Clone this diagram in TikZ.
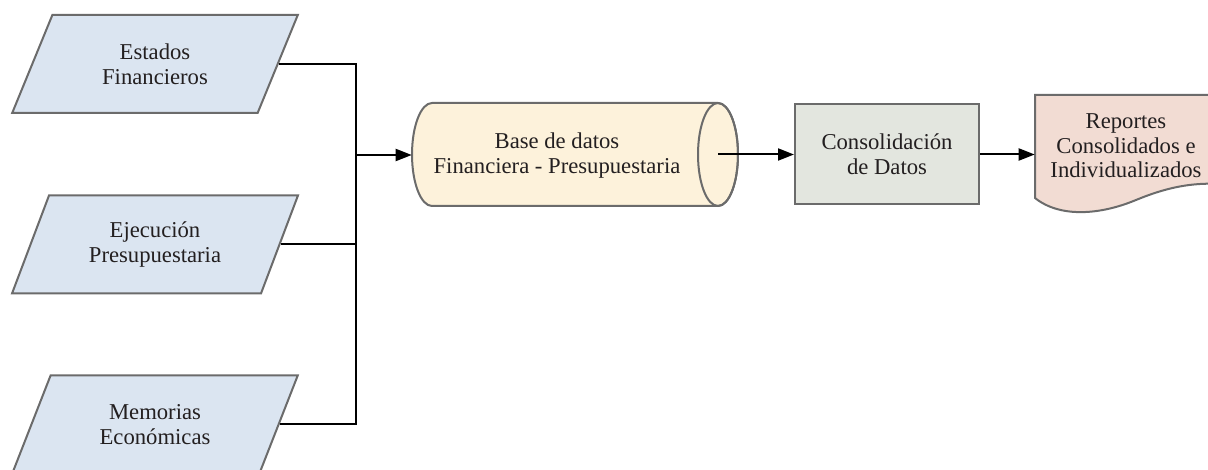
\documentclass[tikz,border=0pt]{standalone}
\usepackage{fontspec}
\setmainfont{Liberation Serif}
\usetikzlibrary{shapes.geometric,arrows.meta}
\definecolor{pfill}{HTML}{DBE5F1}
\definecolor{cfill}{HTML}{FDF2DB}
\definecolor{bfill}{HTML}{E3E6DF}
\definecolor{dfill}{HTML}{F2DCD3}
\definecolor{bord}{HTML}{6B6B6B}
\definecolor{txt}{HTML}{231F20}
\tikzset{
  io/.style={trapezium, trapezium left angle=63, trapezium right angle=117,
    trapezium stretches=true, minimum width=214.5pt, minimum height=73.5pt,
    draw=bord, line width=1.5pt, fill=pfill, align=center, inner sep=0pt, text=txt},
  shapeline/.style={draw=bord, line width=1.5pt},
  lbl/.style={align=center, text=txt, inner sep=0pt},
  conn/.style={line width=1.5pt, draw=black},
  arr/.style={conn, -{Triangle[length=12pt,width=9pt]}}
}
\begin{document}
\begin{tikzpicture}[x=0.75pt,y=0.75pt,font=\rmfamily\fontsize{17}{18.5}\selectfont]
\useasboundingbox (0,0) rectangle (1208,-470);
\clip (0,0) rectangle (1208,-470);
% input parallelograms
\node[io] (p1) at (155,-64) {Estados\\Financieros};
\node[io] (p2) at (155,-244.5) {Ejecución\\Presupuestaria};
\node[io] (p3) at (155,-424.5) {Memorias\\Económicas};
% database cylinder
\path[shapeline, fill=cfill] (432,-103) -- (718,-103)
  arc[start angle=90, end angle=-90, x radius=20, y radius=51.5]
  -- (432,-206)
  arc[start angle=270, end angle=90, x radius=20, y radius=51.5] -- cycle;
\draw[shapeline] (718,-154.5) ellipse[x radius=20, y radius=51.5];
\node[lbl, minimum width=217.5pt, minimum height=77pt] (db) at (557,-155.5) {Base de datos\\Financiera - Presupuestaria};
\coordinate (dbout) at (718,-154.5);
% consolidation box
\node[shapeline, fill=bfill, lbl, minimum width=138pt, minimum height=75pt] (cons) at (887,-154.5) {Consolidación\\de Datos};
% document
\path[shapeline, fill=dfill] (1240,-95) -- (1035,-95) -- (1035,-198)
  .. controls (1060,-218) and (1100,-215) .. (1136,-200)
  .. controls (1170,-186) and (1200,-180) .. (1240,-186) -- cycle;
\node[lbl, minimum width=136.5pt] (rep) at (1126,-146) {Reportes\\Consolidados e\\Individualizados};
% connectors
\coordinate (J) at (356,-155);
\draw[conn] (p1.east) -| (J);
\draw[conn] (p2.east) -| (J);
\draw[conn] (p3.east) -| (J);
\draw[arr] (J) -- (J -| db.west);
\draw[arr] (dbout) -- (dbout -| cons.west);
\draw[arr] (cons.east) -- (cons.east -| rep.west);
\end{tikzpicture}
\end{document}
